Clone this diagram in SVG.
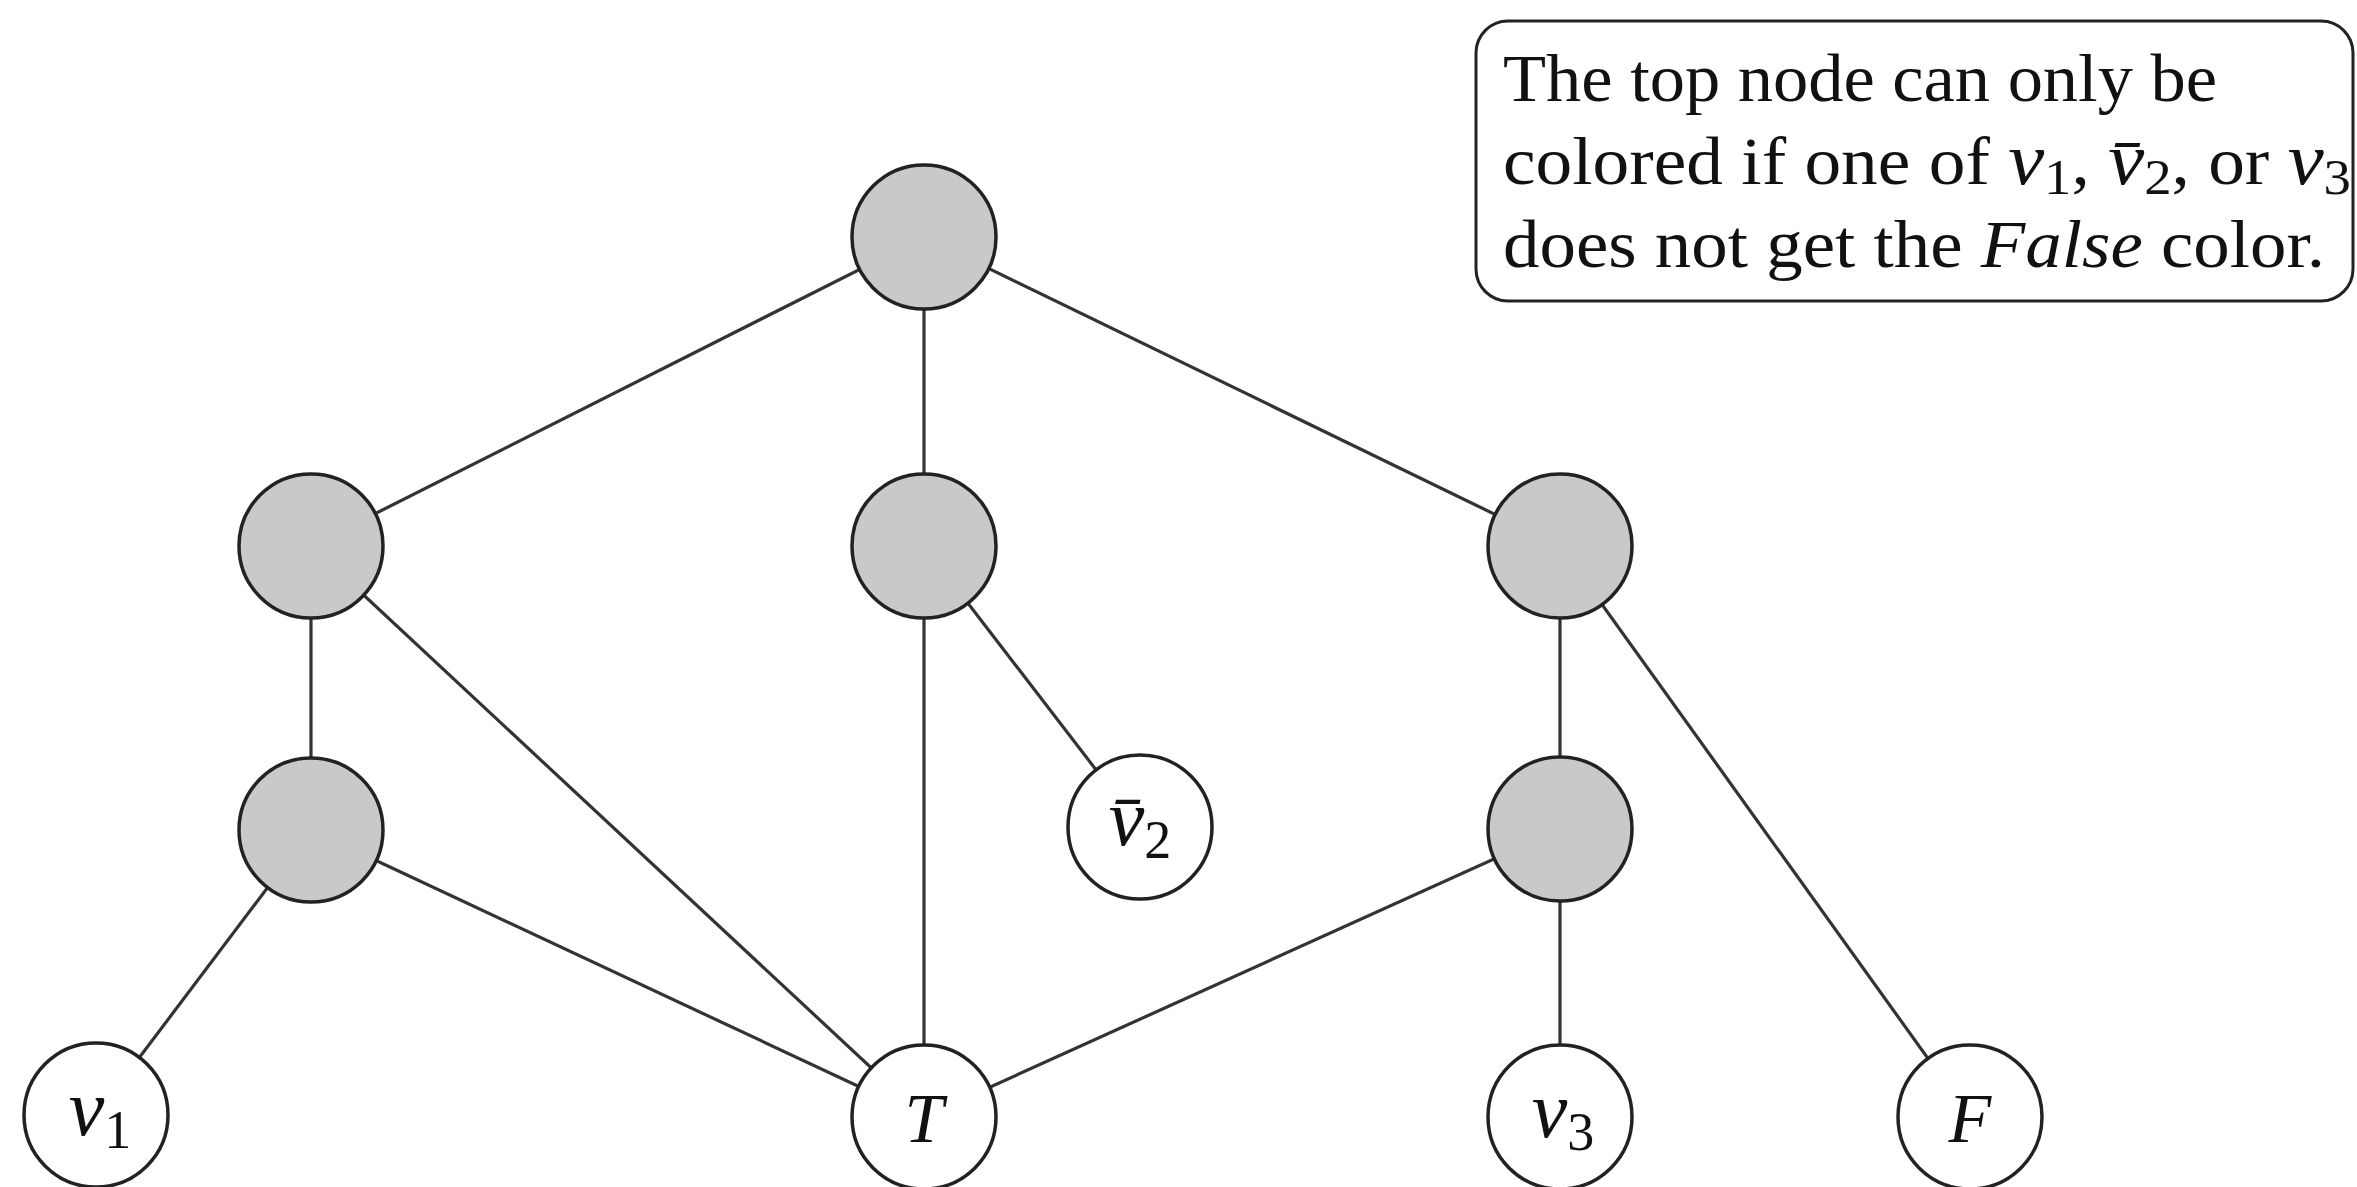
<svg xmlns="http://www.w3.org/2000/svg" width="2357" height="1187" viewBox="0 0 2357 1187">
<style>
.edge{stroke:#333;stroke-width:3.2;fill:none}
.g{fill:#c9c9c9;stroke:#222;stroke-width:3.5}
.w{fill:#fff;stroke:#222;stroke-width:3.5}
.lbl{font-family:"Liberation Serif",serif;font-size:70px;fill:#111;text-anchor:middle}
.it{font-style:italic}
.v{font-style:italic;font-size:80px}
.sub{font-size:54px;font-style:normal}
.box{fill:#fff;stroke:#222;stroke-width:3}
.note{font-family:"Liberation Serif",serif;font-size:67px;fill:#111}
</style>
<rect width="2357" height="1187" fill="#fff"/>
<g id="connectors">
<line class="edge" x1="924" y1="237" x2="311" y2="546"/>
<line class="edge" x1="924" y1="237" x2="924" y2="546"/>
<line class="edge" x1="924" y1="237" x2="1560" y2="546"/>
<line class="edge" x1="311" y1="546" x2="311" y2="830"/>
<line class="edge" x1="311" y1="546" x2="924" y2="1117"/>
<line class="edge" x1="924" y1="546" x2="924" y2="1117"/>
<line class="edge" x1="924" y1="546" x2="1140" y2="827"/>
<line class="edge" x1="1560" y1="546" x2="1560" y2="829"/>
<line class="edge" x1="1560" y1="546" x2="1970" y2="1117"/>
<line class="edge" x1="311" y1="830" x2="96" y2="1115"/>
<line class="edge" x1="311" y1="830" x2="924" y2="1117"/>
<line class="edge" x1="1560" y1="829" x2="924" y2="1117"/>
<line class="edge" x1="1560" y1="829" x2="1560" y2="1117"/>
</g>
<g id="n-top"><circle class="g" cx="924" cy="237" r="72"/></g>
<g id="n-midleft"><circle class="g" cx="311" cy="546" r="72"/></g>
<g id="n-midcenter"><circle class="g" cx="924" cy="546" r="72"/></g>
<g id="n-midright"><circle class="g" cx="1560" cy="546" r="72"/></g>
<g id="n-lowleft"><circle class="g" cx="311" cy="830" r="72"/></g>
<g id="n-lowright"><circle class="g" cx="1560" cy="829" r="72"/></g>
<g id="n-v2bar"><circle class="w" cx="1140" cy="827" r="72"/>
<text class="lbl" x="1140" y="845"><tspan class="v">v̄</tspan><tspan class="sub" dy="13">2</tspan></text></g>
<g id="n-v1"><circle class="w" cx="96" cy="1115" r="72"/>
<text class="lbl" x="100" y="1135"><tspan class="v">v</tspan><tspan class="sub" dy="13">1</tspan></text></g>
<g id="n-T"><circle class="w" cx="924" cy="1117" r="72"/>
<text class="lbl it" x="924" y="1142">T</text></g>
<g id="n-v3"><circle class="w" cx="1560" cy="1117" r="72"/>
<text class="lbl" x="1563" y="1137"><tspan class="v">v</tspan><tspan class="sub" dy="13">3</tspan></text></g>
<g id="n-F"><circle class="w" cx="1970" cy="1117" r="72"/>
<text class="lbl it" x="1970" y="1142">F</text></g>
<g id="note">
<rect class="box" x="1476" y="21" width="877" height="280" rx="32"/>
<text class="note" x="1503" y="101" textLength="714" lengthAdjust="spacingAndGlyphs">The top node can only be</text>
<text class="note" x="1503" y="184" textLength="848" lengthAdjust="spacingAndGlyphs">colored if one of <tspan class="it" font-size="74">v</tspan><tspan font-size="50" dy="10">1</tspan><tspan dy="-10">, </tspan><tspan class="it" font-size="74">v̄</tspan><tspan font-size="50" dy="10">2</tspan><tspan dy="-10">, or </tspan><tspan class="it" font-size="74">v</tspan><tspan font-size="50" dy="10">3</tspan></text>
<text class="note" x="1503" y="267" textLength="822" lengthAdjust="spacingAndGlyphs">does not get the <tspan class="it">False</tspan> color.</text>
</g>
</svg>
